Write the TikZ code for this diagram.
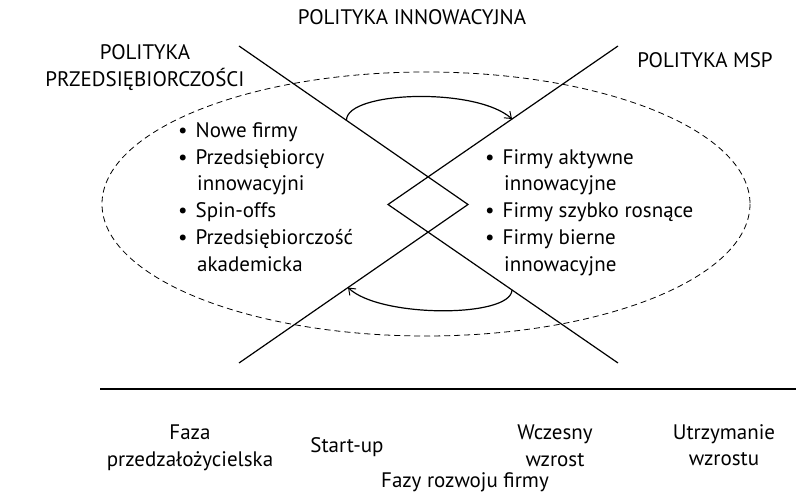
\documentclass[tikz,border=0pt]{standalone}
\usepackage{fontspec}
\setmainfont{PT Sans}
\usetikzlibrary{arrows.meta}
\begin{document}
\begin{tikzpicture}[x=1pt,y=-1pt,
  txt/.style={inner sep=0pt, font=\fontsize{21}{26}\selectfont},
  lbl/.style={txt, anchor=base},
  item/.style={txt, anchor=base west},
  ray/.style={line width=1.2pt, line join=miter},
  loop/.style={line width=1.2pt, -{Straight Barb[length=6pt,width=9pt,line width=1pt]}},
  zone/.style={line width=0.8pt, dash pattern=on 6pt off 4pt},
  axis/.style={line width=2.2pt}]
\useasboundingbox (0,0) rectangle (796,494);

% the two crossing chevrons with the diamond between them
\coordinate (p1) at (239,46);
\coordinate (p2) at (468,204.5);
\coordinate (p3) at (239,363);
\coordinate (q1) at (618,46);
\coordinate (q2) at (388,204.5);
\coordinate (q3) at (618,363);
\draw[ray] (p1) -- (p2) -- (p3);
\draw[ray] (q1) -- (q2) -- (q3);

% dashed field around the actors
\draw[zone] (426,204) ellipse [x radius=324, y radius=132];

% feedback loops
\coordinate (ta) at (346.5,120);
\coordinate (tb) at (512,119);
\coordinate (ba) at (512,290);
\coordinate (bb) at (348,287.5);
\draw[loop] (ta) .. controls (347,91) and (476,87) .. (tb);
\draw[loop] (ba) .. controls (511,318) and (380,318) .. (bb);

% policy labels
\node[lbl] (inn) at (412,25) {POLITYKA INNOWACYJNA};
\node[lbl] (pp1) at (145,60) {POLITYKA};
\node[lbl] (pp2) at (145,87) {PRZEDSIĘBIORCZOŚCI};
\node[lbl] (msp) at (705,68) {POLITYKA MSP};

% left group
\node[item] (l1) at (178,138) {•\hspace{8pt}Nowe firmy};
\node[item] (l2) at (178,165) {•\hspace{8pt}Przedsiębiorcy};
\node[item] (l3) at (197,191) {innowacyjni};
\node[item] (l4) at (178,218) {•\hspace{8pt}Spin-offs};
\node[item] (l5) at (178,245) {•\hspace{8pt}Przedsiębiorczość};
\node[item] (l6) at (197,272) {akademicka};

% right group
\node[item] (r1) at (485,165) {•\hspace{8pt}Firmy aktywne};
\node[item] (r2) at (504,191) {innowacyjne};
\node[item] (r3) at (485,218) {•\hspace{8pt}Firmy szybko rosnące};
\node[item] (r4) at (485,245) {•\hspace{8pt}Firmy bierne};
\node[item] (r5) at (504,272) {innowacyjne};

% development axis
\coordinate (ax0) at (100,389);
\coordinate (ax1) at (796,389);
\draw[axis] (ax0) -- (ax1);

\node[lbl] (s1a) at (190,440) {Faza};
\node[lbl] (s1b) at (190,467) {przedzałożycielska};
\node[lbl] (s2) at (347,453) {Start-up};
\node[lbl] (s3a) at (555,440) {Wczesny};
\node[lbl] (s3b) at (555,467) {wzrost};
\node[lbl] (s4a) at (724,440) {Utrzymanie};
\node[lbl] (s4b) at (724,466) {wzrostu};
\node[lbl] (ttl) at (465,488) {Fazy rozwoju firmy};
\end{tikzpicture}
\end{document}
